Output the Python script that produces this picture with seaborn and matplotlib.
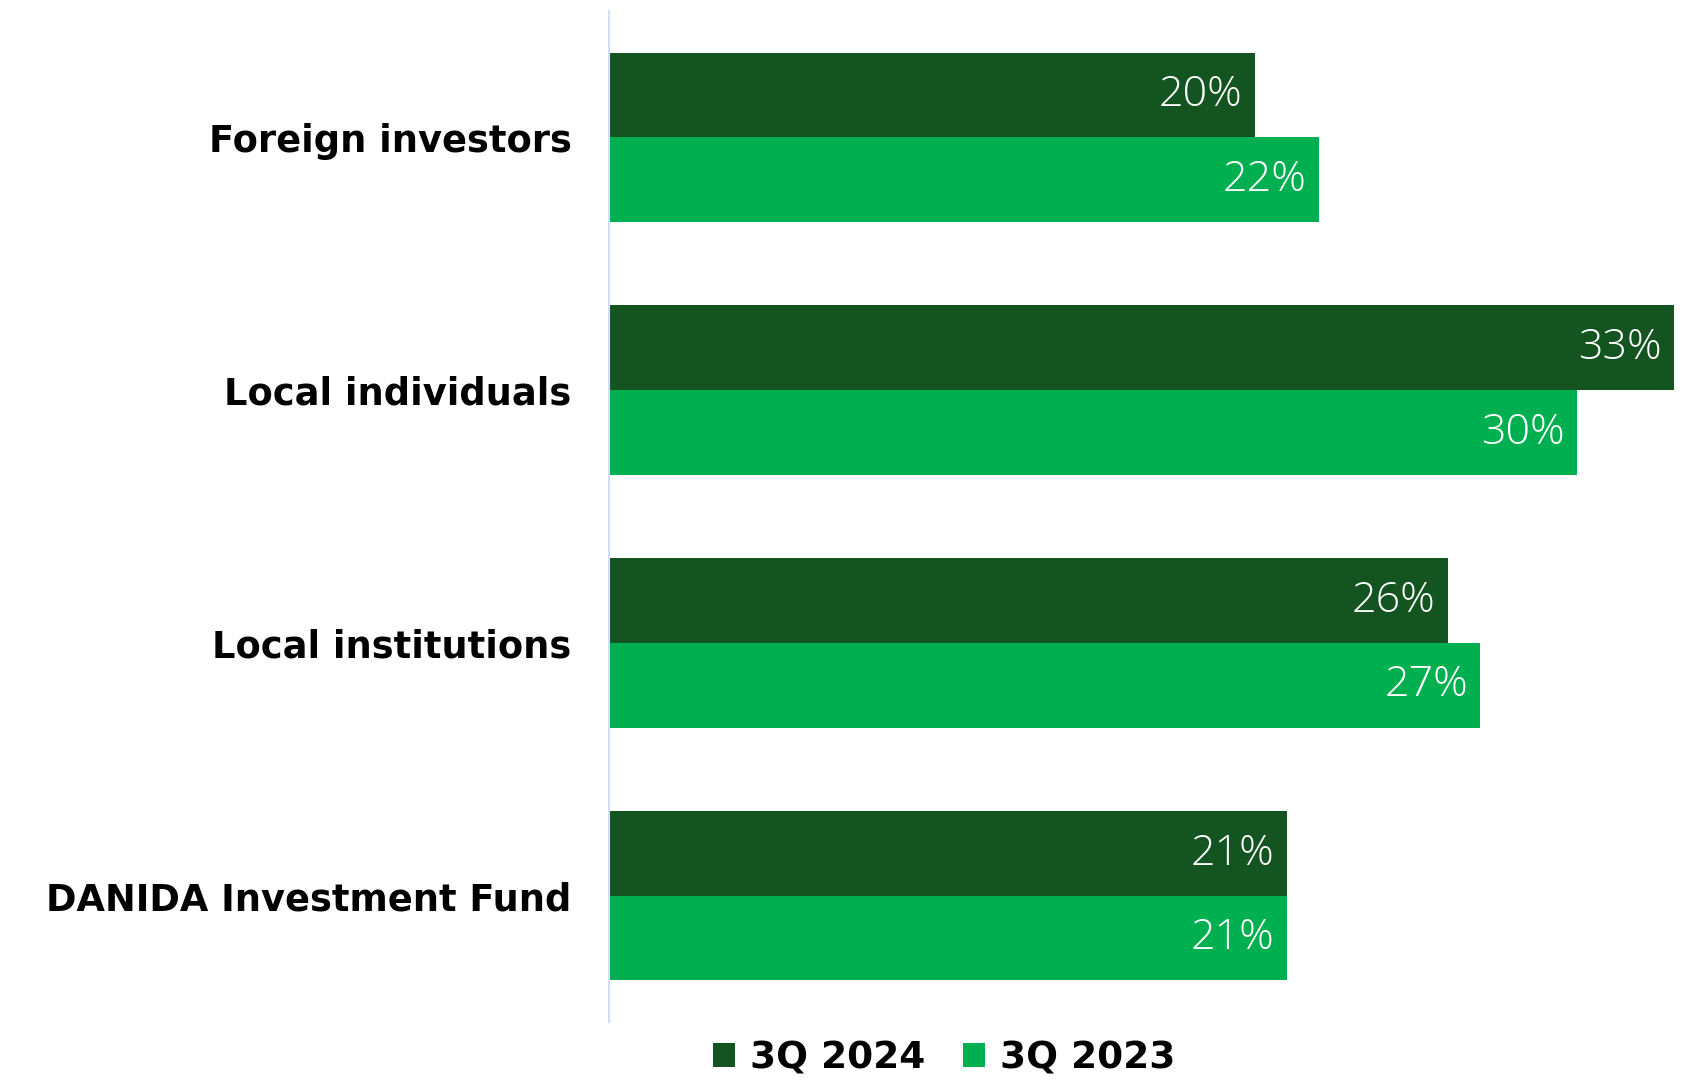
import matplotlib
matplotlib.use("Agg")
import matplotlib.pyplot as plt
import seaborn as sns
import pandas as pd

categories = ["Foreign investors", "Local individuals", "Local institutions", "DANIDA Investment Fund"]
series_names = ["3Q 2024", "3Q 2023"]
values_2024 = [20, 33, 26, 21]
values_2023 = [22, 30, 27, 21]
colors = ["#145420", "#00AF50"]

df = pd.DataFrame({
    "category": categories * 2,
    "period": [series_names[0]] * 4 + [series_names[1]] * 4,
    "share": values_2024 + values_2023,
})

sns.set_theme(style="white")
plt.rcParams["font.family"] = ["DejaVu Sans"]

fig = plt.figure(figsize=(16.98, 10.81), dpi=100)
ax = fig.add_axes([609 / 1698, 1 - 1022 / 1081, 1 - 609 / 1698, (1022 - 11) / 1081])

sns.barplot(data=df, y="category", x="share", hue="period", orient="h",
            palette=colors, width=0.67, saturation=1, linewidth=0,
            ax=ax, legend=True)

ax.set_xlim(0, 33.74)
ax.set_ylim(3.5, -0.5)
ax.set_xlabel("")
ax.set_ylabel("")
ax.set_xticks([])
for s in ["top", "right", "bottom"]:
    ax.spines[s].set_visible(False)
ax.spines["left"].set_color("#D3DFF0")
ax.spines["left"].set_linewidth(1.5)

ax.tick_params(axis="y", length=0, pad=27)
for lbl in ax.get_yticklabels():
    lbl.set_fontsize(26.5)
    lbl.set_fontweight("bold")
    lbl.set_color("black")

for container in ax.containers:
    for patch in container:
        w = patch.get_width()
        y = patch.get_y() + patch.get_height() / 2
        ax.annotate(f"{w:.0f}%", xy=(w, y), xytext=(-9, 0), textcoords="offset points",
                    ha="right", va="center", color="white", fontsize=31,
                    fontfamily="Open Sans", fontweight="light")

handles, labels = ax.get_legend_handles_labels()
ax.get_legend().remove()
fig.legend(handles, labels, loc="center", bbox_to_anchor=(0.556, 1 - 1058 / 1081),
           ncol=2, frameon=False, handlelength=0.6, handleheight=0.6,
           handletextpad=0.4, columnspacing=1.0, labelcolor="black",
           prop={"size": 27, "weight": "bold"})

fig.savefig("out.png", dpi=100)
